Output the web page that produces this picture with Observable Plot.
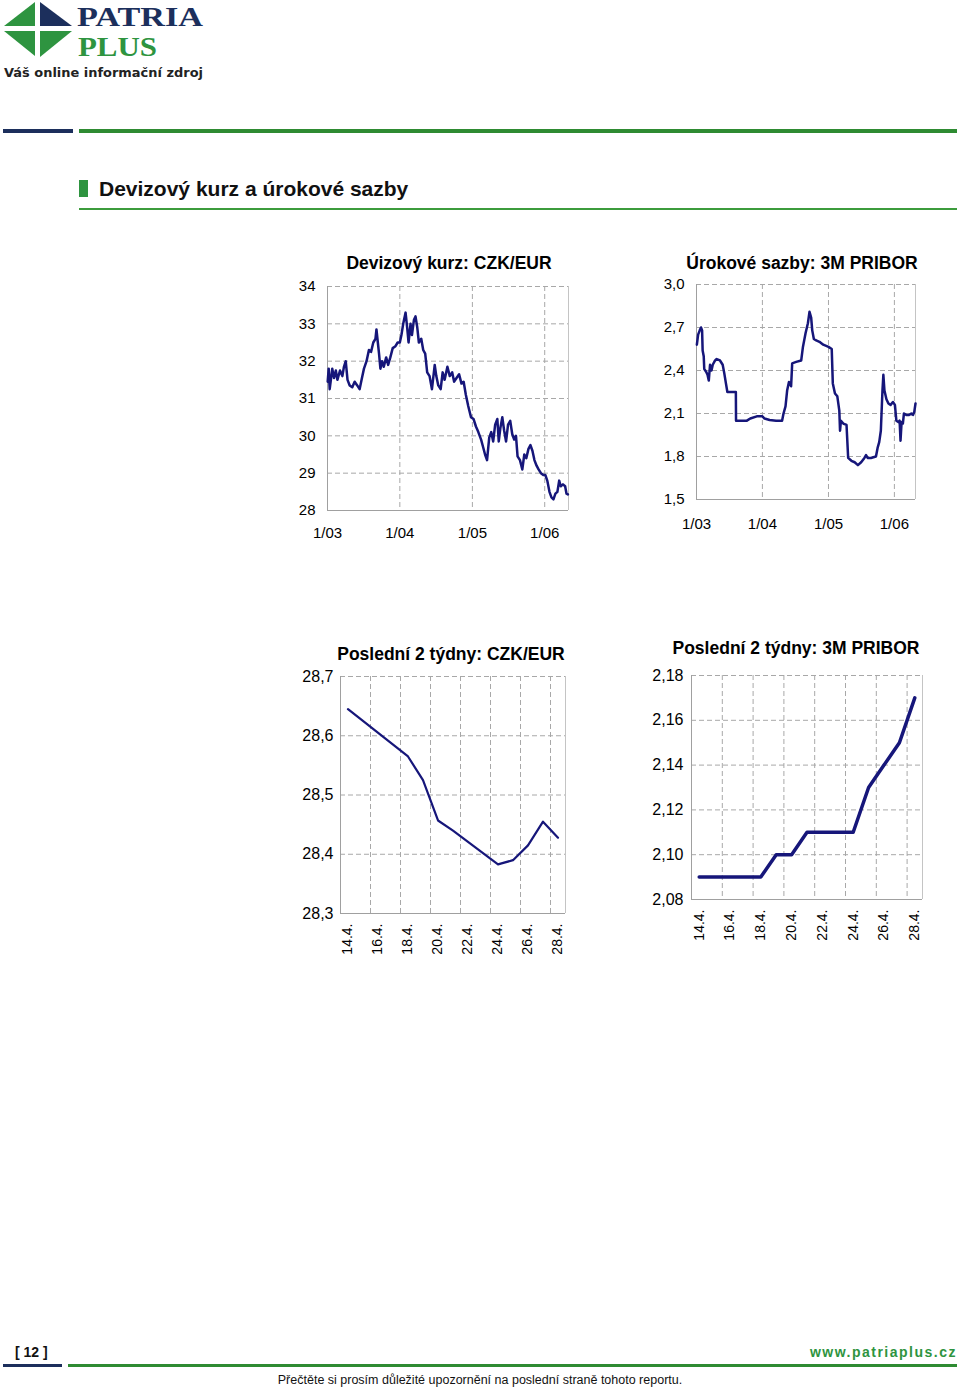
<!DOCTYPE html>
<html><head><meta charset="utf-8">
<script src="https://cdn.jsdelivr.net/npm/d3@7"></script>
<script src="https://cdn.jsdelivr.net/npm/@observablehq/plot@0.6"></script>
<style>
body{margin:0;background:#fff;}
#page{position:relative;width:960px;height:1388px;overflow:hidden;font-family:"Liberation Sans",Arial,sans-serif;color:#000;background:#fff;}
.abs{position:absolute;}
.ttl{position:absolute;font-weight:bold;font-size:17.5px;white-space:nowrap;text-align:center;line-height:20px;width:400px;}
</style></head><body><div id="page">
<svg class="abs" style="left:0;top:0" width="220" height="90">
  <polygon points="4,26 35,2 35,26" fill="#2e9440"/>
  <polygon points="40,2 72,26 40,26" fill="#1c2f5c"/>
  <polygon points="4,31 35,31 35,56" fill="#2e9440"/>
  <polygon points="40,31 72,31 40,57" fill="#2e9440"/>
  <text x="77" y="26" font-family="Liberation Serif" font-weight="bold" font-size="27" fill="#1c2f5c" textLength="126" lengthAdjust="spacingAndGlyphs">PATRIA</text>
  <text x="78" y="56" font-family="Liberation Serif" font-weight="bold" font-size="27" fill="#2e9440" textLength="79" lengthAdjust="spacingAndGlyphs">PLUS</text>
  <text x="4" y="77" font-family="DejaVu Sans" font-weight="bold" font-size="13" fill="#222" textLength="199" lengthAdjust="spacingAndGlyphs">Váš online informační zdroj</text>
</svg>
<div class="abs" style="left:3px;top:129px;width:70px;height:4px;background:#1c2f5c"></div>
<div class="abs" style="left:79px;top:129px;width:878px;height:4px;background:#2e8b32"></div>
<div class="abs" style="left:79px;top:180px;width:9px;height:17px;background:#2e9440"></div>
<div class="abs" style="left:99px;top:176px;font-weight:bold;font-size:21px;line-height:26px;color:#111;white-space:nowrap">Devizový kurz a úrokové sazby</div>
<div class="abs" style="left:79px;top:208px;width:878px;height:2px;background:#3c9c3c"></div>

<div class="ttl" style="left:249px;top:253px">Devizový kurz: CZK/EUR</div>
<div class="ttl" style="left:602px;top:253px">Úrokové sazby: 3M PRIBOR</div>
<div class="ttl" style="left:251px;top:644px">Poslední 2 týdny: CZK/EUR</div>
<div class="ttl" style="left:596px;top:638px">Poslední 2 týdny: 3M PRIBOR</div>

<div id="c1" class="abs" style="left:270px;top:270px"></div>
<div id="c2" class="abs" style="left:640px;top:270px"></div>
<div id="c3" class="abs" style="left:280px;top:665px"></div>
<div id="c4" class="abs" style="left:630px;top:665px"></div>

<div class="abs" style="left:15px;top:1343px;font-weight:bold;font-size:14px;line-height:18px;color:#111">[ 12 ]</div>
<div class="abs" style="right:3px;top:1343px;font-weight:bold;font-size:14px;line-height:18px;color:#2e9440;letter-spacing:1.5px">www.patriaplus.cz</div>
<div class="abs" style="left:3px;top:1364px;width:59px;height:3px;background:#1c2f5c"></div>
<div class="abs" style="left:68px;top:1364px;width:889px;height:3px;background:#2e8b32"></div>
<div class="abs" style="left:0;width:960px;top:1372px;text-align:center;font-size:12.5px;line-height:16px;color:#111">Přečtěte si prosím důležité upozornění na poslední straně tohoto reportu.</div>
</div>
<script>
// ---- data ----
const czkDates = ["2003-01-02","2003-01-07","2003-01-12","2003-01-18","2003-01-25","2003-02-03","2003-02-12","2003-02-20","2003-03-05","2003-03-17","2003-03-25","2003-04-03","2003-04-12","2003-04-23","2003-05-06","2003-05-18","2003-05-31","2003-06-12","2003-06-22","2003-07-04","2003-07-17","2003-07-29","2003-08-09","2003-08-20","2003-08-31","2003-09-05","2003-09-12","2003-09-18","2003-09-25","2003-10-03","2003-10-12","2003-10-24","2003-11-03","2003-11-14","2003-11-26","2003-12-10","2003-12-21","2004-01-01","2004-01-09","2004-01-18","2004-01-30","2004-02-07","2004-02-14","2004-02-24","2004-03-02","2004-03-12","2004-03-20","2004-03-29","2004-04-06","2004-04-18","2004-04-28","2004-05-08","2004-05-18","2004-05-30","2004-06-11","2004-06-25","2004-07-03","2004-07-13","2004-07-25","2004-08-04","2004-08-14","2004-08-28","2004-09-09","2004-09-21","2004-10-01","2004-10-13","2004-10-26","2004-11-07","2004-11-18","2004-11-29","2004-12-11","2004-12-25","2005-01-07","2005-01-19","2005-01-31","2005-02-14","2005-02-24","2005-03-06","2005-03-16","2005-03-27","2005-04-06","2005-04-16","2005-04-26","2005-05-07","2005-05-14","2005-05-22","2005-06-01","2005-06-10","2005-06-20","2005-06-30","2005-07-11","2005-07-21","2005-07-31","2005-08-09","2005-08-17","2005-08-29","2005-09-10","2005-09-20","2005-09-30","2005-10-11","2005-10-21","2005-10-31","2005-11-10","2005-11-21","2005-12-01","2005-12-13","2005-12-25","2006-01-04","2006-01-14","2006-01-25","2006-02-04","2006-02-14","2006-02-24","2006-03-06","2006-03-15","2006-03-23","2006-04-03","2006-04-14","2006-04-21","2006-04-28"];
const czkValues = [31.45,31.8,31.25,31.5,31.8,31.55,31.75,31.5,31.75,31.6,31.85,32.0,31.5,31.35,31.3,31.45,31.35,31.25,31.5,31.8,32.0,32.3,32.25,32.5,32.6,32.85,32.5,32.2,31.8,32.0,31.85,32.1,31.9,32.1,32.35,32.4,32.5,32.5,32.7,33.0,33.3,32.9,32.5,33.0,32.7,33.1,33.2,32.9,32.5,32.6,32.3,32.2,31.7,31.6,31.25,31.9,31.6,31.35,31.25,31.7,31.5,31.85,31.6,31.7,31.45,31.55,31.65,31.4,31.45,31.1,30.8,30.5,30.45,30.25,30.1,29.9,29.7,29.5,29.35,29.95,30.1,29.85,30.3,30.45,29.85,30.2,30.5,30.15,29.85,30.3,30.4,30.05,29.9,30.0,29.45,29.35,29.1,29.5,29.4,29.65,29.75,29.6,29.35,29.2,29.1,29.0,28.95,28.95,28.8,28.5,28.35,28.3,28.45,28.5,28.8,28.65,28.7,28.65,28.45,28.43];

const priborDates = ["2003-01-03","2003-01-10","2003-01-19","2003-01-26","2003-02-01","2003-02-04","2003-02-10","2003-02-13","2003-02-24","2003-03-03","2003-03-10","2003-03-17","2003-03-25","2003-04-01","2003-04-14","2003-04-23","2003-05-11","2003-05-26","2003-06-04","2003-06-13","2003-06-21","2003-07-15","2003-08-07","2003-08-08","2003-09-01","2003-10-07","2003-10-26","2003-12-01","2004-01-01","2004-01-13","2004-02-10","2004-03-17","2004-04-19","2004-04-27","2004-05-08","2004-05-17","2004-05-27","2004-06-08","2004-06-14","2004-07-06","2004-08-03","2004-08-12","2004-08-27","2004-09-09","2004-09-18","2004-09-27","2004-10-03","2004-10-12","2004-10-25","2004-11-12","2004-12-03","2005-01-01","2005-01-19","2005-01-25","2005-02-06","2005-02-19","2005-03-02","2005-03-06","2005-03-11","2005-03-24","2005-04-11","2005-04-20","2005-05-08","2005-05-26","2005-06-13","2005-07-01","2005-07-19","2005-07-28","2005-08-06","2005-08-24","2005-09-21","2005-09-30","2005-10-09","2005-10-18","2005-10-27","2005-11-01","2005-11-07","2005-11-18","2005-11-29","2005-12-11","2005-12-24","2006-01-04","2006-01-12","2006-01-23","2006-01-30","2006-02-04","2006-02-10","2006-02-17","2006-02-23","2006-03-08","2006-03-23","2006-04-05","2006-04-14","2006-04-21","2006-04-28"];
const priborValues = [2.58,2.65,2.68,2.70,2.68,2.54,2.50,2.41,2.39,2.37,2.33,2.44,2.40,2.44,2.47,2.48,2.47,2.44,2.38,2.31,2.25,2.25,2.25,2.05,2.05,2.05,2.065,2.08,2.08,2.065,2.055,2.05,2.05,2.10,2.15,2.26,2.32,2.29,2.45,2.46,2.47,2.56,2.66,2.73,2.81,2.77,2.68,2.62,2.61,2.60,2.58,2.565,2.55,2.31,2.24,2.22,2.12,1.98,2.05,2.03,2.02,1.79,1.77,1.76,1.74,1.76,1.79,1.81,1.79,1.79,1.80,1.86,1.90,1.98,2.26,2.37,2.26,2.20,2.17,2.16,2.18,2.16,2.05,2.04,2.05,1.91,2.04,2.03,2.10,2.09,2.09,2.10,2.09,2.11,2.17];

const lastDays = ["2006-04-14","2006-04-18","2006-04-19","2006-04-20","2006-04-21","2006-04-24","2006-04-25","2006-04-26","2006-04-27","2006-04-28"];
const czkLast = [28.645,28.565,28.525,28.457,28.44,28.383,28.39,28.415,28.455,28.428];
const priborLast = [2.09,2.09,2.10,2.10,2.11,2.11,2.13,2.14,2.15,2.17];

const yearTickLabels = ["1/03","1/04","1/05","1/06"];
const dayTickLabels = ["14.4.","16.4.","18.4.","20.4.","22.4.","24.4.","26.4.","28.4."];
const czkTicks = [28,29,30,31,32,33,34];
const priborTicks = [1.5,1.8,2.1,2.4,2.7,3.0];
const czkLastTicks = [28.3,28.4,28.5,28.6,28.7];
const priborLastTicks = [2.08,2.10,2.12,2.14,2.16,2.18];

// ---- styling helpers ----
const lineColor = "#16167a";
const gridColor = "#a8a8a8";
const axisColor = "#a0a0a0";
const frameColor = "#c4c4c4";
const dash = "5,3";
const font = "'Liberation Sans', Arial, sans-serif";
const fix = n => d => d.toFixed(n).replace(".", ",");

const yearDates = yearTickLabels.map(s => { const [m, y] = s.split("/"); return new Date(Date.UTC(2000 + +y, +m - 1, 1)); });
const yearLabel = new Map(yearDates.map((d, i) => [+d, yearTickLabels[i]]));
const dayDates = dayTickLabels.map(s => { const [d, m] = s.split("."); return new Date(Date.UTC(2006, +m - 1, +d)); });
const dayLabel = new Map(dayDates.map((d, i) => [+d, dayTickLabels[i]]));
const dayGrid = dayDates.slice(0, -1).map(d => new Date(+d + 36 * 3600e3)); // between categories
const rows = (ds, vs) => ds.map((d, i) => ({date: new Date(d + "T00:00:00Z"), value: vs[i]}));

function longChart({el, width, height, margins, xDom, yDom, yTicks, yFmt, data, fontSize, padX}) {
  const p = Plot.plot({
    width, height, ...margins,
    style: {fontFamily: font, fontSize: fontSize, color: "#000", background: "transparent", overflow: "visible"},
    x: {type: "utc", domain: xDom, label: null},
    y: {domain: yDom, label: null},
    marks: [
      Plot.gridX(yearDates.filter(d => d > xDom[0]), {stroke: gridColor, strokeOpacity: 1, strokeDasharray: dash}),
      Plot.gridY(yTicks.slice(1), {stroke: gridColor, strokeOpacity: 1, strokeDasharray: dash}),
      Plot.ruleX([xDom[0]], {stroke: axisColor}),
      Plot.ruleX([xDom[1]], {stroke: frameColor}),
      Plot.ruleY([yDom[0]], {stroke: axisColor}),
      Plot.axisY(yTicks, {tickSize: 0, tickPadding: 12, tickFormat: yFmt, label: null}),
      Plot.axisX(yearDates, {tickSize: 0, tickPadding: padX, tickFormat: d => yearLabel.get(+d), label: null}),
      Plot.line(data, {x: "date", y: "value", stroke: lineColor, strokeWidth: 2.5, strokeLinejoin: "round"})
    ]
  });
  document.getElementById(el).append(p);
}

function shortChart({el, width, height, margins, yDom, yTicks, yFmt, data, strokeWidth, fontSize, padY}) {
  const xDom = [new Date(Date.UTC(2006, 3, 13, 12)), new Date(Date.UTC(2006, 3, 28, 12))];
  const p = Plot.plot({
    width, height, ...margins,
    style: {fontFamily: font, fontSize: fontSize, color: "#000", background: "transparent", overflow: "visible"},
    x: {type: "utc", domain: xDom, label: null},
    y: {domain: yDom, label: null},
    marks: [
      Plot.gridX(dayGrid, {stroke: gridColor, strokeOpacity: 1, strokeDasharray: dash}),
      Plot.gridY(yTicks.slice(1), {stroke: gridColor, strokeOpacity: 1, strokeDasharray: dash}),
      Plot.ruleX([xDom[0]], {stroke: axisColor}),
      Plot.ruleX([xDom[1]], {stroke: frameColor}),
      Plot.ruleY([yDom[0]], {stroke: axisColor}),
      Plot.axisY(yTicks, {tickSize: 0, tickPadding: padY, tickFormat: yFmt, label: null}),
      Plot.axisX(dayDates, {tickSize: 0, tickPadding: 10, tickRotate: -90, fontSize: "14px", tickFormat: d => dayLabel.get(+d), label: null}),
      Plot.line(data, {x: "date", y: "value", stroke: lineColor, strokeWidth, strokeLinejoin: "round"})
    ]
  });
  document.getElementById(el).append(p);
}

longChart({el: "c1", width: 310, height: 285, margins: {marginLeft: 57, marginRight: 12, marginTop: 16, marginBottom: 45},
  xDom: [new Date(Date.UTC(2003, 0, 1)), new Date(Date.UTC(2006, 4, 1))], yDom: [28, 34], yTicks: czkTicks,
  yFmt: d => String(d), data: rows(czkDates, czkValues), fontSize: "15px", padX: 17});

longChart({el: "c2", width: 290, height: 275, margins: {marginLeft: 56, marginRight: 15, marginTop: 14, marginBottom: 46},
  xDom: [new Date(Date.UTC(2003, 0, 1)), new Date(Date.UTC(2006, 3, 28))], yDom: [1.5, 3.0], yTicks: priborTicks,
  yFmt: fix(1), data: rows(priborDates, priborValues), fontSize: "15px", padX: 19});

shortChart({el: "c3", width: 300, height: 305, margins: {marginLeft: 60, marginRight: 15, marginTop: 11, marginBottom: 57},
  yDom: [28.3, 28.7], yTicks: czkLastTicks, yFmt: fix(1), data: rows(lastDays, czkLast), strokeWidth: 2.2, fontSize: "16px", padY: 7});

shortChart({el: "c4", width: 305, height: 300, margins: {marginLeft: 61, marginRight: 13, marginTop: 10, marginBottom: 66},
  yDom: [2.08, 2.18], yTicks: priborLastTicks, yFmt: fix(2), data: rows(lastDays, priborLast), strokeWidth: 3.5, fontSize: "16px", padY: 8});
</script>
</body></html>
